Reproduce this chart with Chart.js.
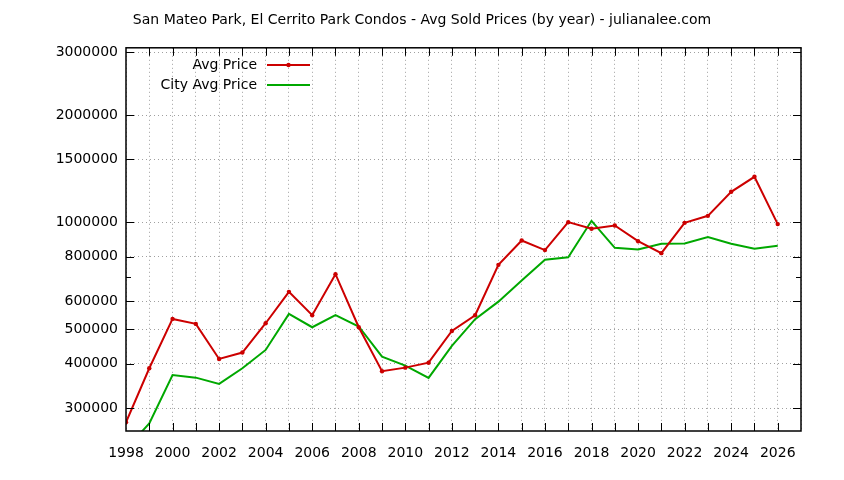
<!DOCTYPE html>
<html><head><meta charset="utf-8">
<script src="https://cdn.jsdelivr.net/npm/chart.js@4"></script>
<style>html,body{margin:0;padding:0;background:#fff;}#wrap{width:844px;height:480px;}</style>
</head><body><div id="wrap"><canvas id="c" width="844" height="480"></canvas></div>
<script>
const titleText = "San Mateo Park, El Cerrito Park Condos - Avg Sold Prices (by year) - julianalee.com";
const seriesLabels = ["Avg Price", "City Avg Price"];
const years = [1998,1999,2000,2001,2002,2003,2004,2005,2006,2007,2008,2009,2010,2011,2012,2013,2014,2015,2016,2017,2018,2019,2020,2021,2022,2023,2024,2025,2026];
const avgPrice = [273800,388400,534600,517600,412500,430000,519800,636800,547500,714000,506500,381000,390000,402700,494500,547500,758500,887700,834500,1000000,957600,978200,884000,818000,995500,1041600,1216900,1341000,987200];
const cityAvgPrice = [230000,272000,371900,365500,351000,388400,437300,552100,506500,547500,509000,418800,395000,364800,448700,533600,597800,685100,783500,797000,1008500,846900,837500,869000,870800,907500,869000,841300,857800];
const yTickValues = [300000,400000,500000,600000,800000,1000000,1500000,2000000,3000000];
const yMinorTickValues = [700000];
const xMin = 1998, xMax = 2027;
const yMin = 258800, yMax = 3090000;

const FONT = "DejaVu Sans";
const RED = "#cc0000", GREEN = "#00a800";

const decor = {
  id: "decor",
  afterDatasetsDraw(chart) {
    const {ctx, chartArea: a, scales: {x, y}} = chart;
    ctx.save();
    ctx.strokeStyle = "#000";
    ctx.lineWidth = 1;
    for (let yr = xMin + 1; yr < xMax; yr++) {
      const px = Math.round(x.getPixelForValue(yr)) + 0.5;
      ctx.beginPath();
      ctx.moveTo(px, a.bottom); ctx.lineTo(px, a.bottom - 8);
      ctx.moveTo(px, a.top); ctx.lineTo(px, a.top + 8);
      ctx.stroke();
    }
    const yt = (v, len) => {
      const py = Math.round(y.getPixelForValue(v)) + 0.5;
      ctx.beginPath();
      ctx.moveTo(a.left, py); ctx.lineTo(a.left + len, py);
      ctx.moveTo(a.right, py); ctx.lineTo(a.right - len, py);
      ctx.stroke();
    };
    yTickValues.forEach(v => yt(v, 8));
    yMinorTickValues.forEach(v => yt(v, 5));
    ctx.lineWidth = 1.5;
    ctx.strokeRect(a.left, a.top, a.right - a.left, a.bottom - a.top);
    ctx.font = "14px '" + FONT + "'";
    ctx.fillStyle = "#000";
    ctx.textAlign = "right";
    ctx.textBaseline = "middle";
    chart.data.datasets.forEach((ds, i) => {
      const ly = 65 + i * 20;
      ctx.fillText(ds.label, 257, ly);
      ctx.strokeStyle = ds.borderColor;
      ctx.lineWidth = 2;
      ctx.beginPath(); ctx.moveTo(267, ly); ctx.lineTo(310, ly); ctx.stroke();
      if (ds.pointRadius > 0) {
        ctx.fillStyle = ds.borderColor;
        ctx.beginPath(); ctx.arc(288.5, ly, ds.pointRadius, 0, Math.PI * 2); ctx.fill();
        ctx.fillStyle = "#000";
      }
    });
    ctx.restore();
  }
};

new Chart(document.getElementById("c"), {
  type: "line",
  data: {
    datasets: [
      { label: seriesLabels[0], data: years.map((yr, i) => ({x: yr, y: avgPrice[i]})),
        borderColor: RED, backgroundColor: RED, borderWidth: 2, pointRadius: 2.2, pointBorderWidth: 0, pointHoverRadius: 2.2, tension: 0 },
      { label: seriesLabels[1], data: years.map((yr, i) => ({x: yr, y: cityAvgPrice[i]})),
        borderColor: GREEN, backgroundColor: GREEN, borderWidth: 2, pointRadius: 0, tension: 0 }
    ]
  },
  options: {
    responsive: false,
    animation: false,
    devicePixelRatio: 1,
    layout: { padding: { left: 43, right: 43, top: 0, bottom: 0 } },
    plugins: {
      legend: { display: false },
      tooltip: { enabled: false },
      title: { display: true, text: titleText, color: "#000",
        font: { family: FONT, size: 14, weight: "normal" },
        padding: { top: 12, bottom: 19 } }
    },
    scales: {
      x: {
        type: "linear", min: xMin, max: xMax,
        afterFit(s) { s.height = 49; },
        afterBuildTicks(s) { const t = []; for (let v = xMin; v <= xMax; v++) t.push({value: v}); s.ticks = t; },
        ticks: { autoSkip: false, maxRotation: 0, padding: 14, color: "#000",
          font: { family: FONT, size: 14 },
          callback: v => (v % 2 === 0 && v < xMax) ? String(v) : "" },
        grid: { color: "#a0a0a0", lineWidth: 1, drawTicks: false },
        border: { display: false, dash: [1, 3] }
      },
      y: {
        type: "logarithmic", min: yMin, max: yMax,
        afterFit(s) { s.width = 83; },
        afterBuildTicks(s) { s.ticks = yTickValues.map(v => ({value: v})); },
        ticks: { autoSkip: false, padding: 8, color: "#000",
          font: { family: FONT, size: 14 },
          callback: v => String(v) },
        grid: { color: "#a0a0a0", lineWidth: 1, drawTicks: false },
        border: { display: false, dash: [1, 3] }
      }
    }
  },
  plugins: [decor]
});
</script></body></html>
